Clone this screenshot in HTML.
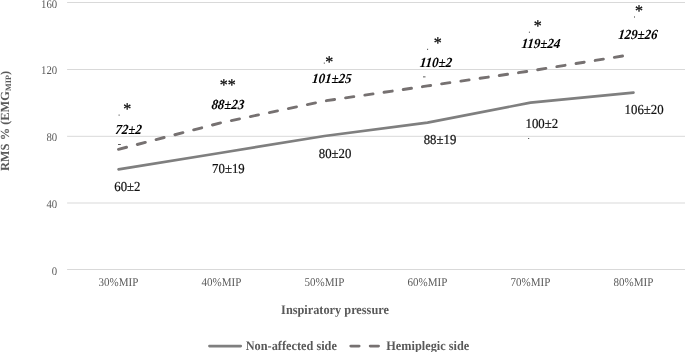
<!DOCTYPE html>
<html><head><meta charset="utf-8">
<style>
html,body{margin:0;padding:0;background:#fff;}
body{width:685px;height:352px;overflow:hidden;position:relative;}
svg{position:absolute;left:0;top:0;display:block;will-change:transform;}
text{font-family:"Liberation Serif",serif;text-rendering:geometricPrecision;}
.ax{font-size:11.1px;fill:#595959;}
.dl{font-size:12.8px;fill:#111;stroke:#111;stroke-width:0.2px;}
.dh{font-size:12.9px;fill:#000;stroke:#000;stroke-width:0.05px;font-weight:bold;font-style:italic;}
.st{font-size:16px;fill:#111;stroke:#111;stroke-width:0.3px;}
.tt{font-size:12.3px;fill:#595959;font-weight:bold;}
</style></head><body>
<svg width="685" height="352" viewBox="0 0 685 352">
<g stroke="#d9d9d9" stroke-width="1" fill="none">
<line x1="67.1" y1="2.5" x2="685" y2="2.5"/>
<line x1="67.1" y1="69.5" x2="685" y2="69.5"/>
<line x1="67.1" y1="136.3" x2="685" y2="136.3"/>
<line x1="67.1" y1="203" x2="685" y2="203"/>
<line x1="67.1" y1="269.5" x2="685" y2="269.5"/>
</g>
<g class="ax" text-anchor="end">
<text transform="translate(57.2,7.65) scale(0.97,1.06)">160</text>
<text transform="translate(57.2,74.4) scale(0.97,1.06)">120</text>
<text transform="translate(57.2,141.15) scale(0.97,1.06)">80</text>
<text transform="translate(57.2,207.55) scale(0.97,1.06)">40</text>
<text transform="translate(57.2,274.65) scale(0.97,1.06)">0</text>
</g><g class="ax" text-anchor="middle">
<text transform="translate(118.5,286.4) scale(0.995,1.07)">30%MIP</text>
<text transform="translate(221.5,286.4) scale(0.995,1.07)">40%MIP</text>
<text transform="translate(324.5,286.4) scale(0.995,1.07)">50%MIP</text>
<text transform="translate(427.5,286.4) scale(0.995,1.07)">60%MIP</text>
<text transform="translate(530.5,286.4) scale(0.995,1.07)">70%MIP</text>
<text transform="translate(633.5,286.4) scale(0.995,1.07)">80%MIP</text>
</g>
<polyline fill="none" stroke="#7f7f7f" stroke-width="2.6" stroke-linejoin="round" stroke-linecap="round" points="118.5,169.38 221.5,152.69 324.5,136.0 427.5,122.65 530.5,102.62 633.5,92.61"/>
<polyline fill="none" stroke="#767171" stroke-width="2.9" stroke-linejoin="round" stroke-linecap="round" stroke-dasharray="8.3,11.115" points="118.5,149.35 221.5,122.65 324.5,100.96 427.5,85.94 530.5,70.92 633.5,54.23"/>
<g class="dl" text-anchor="middle">
<text transform="translate(127.4,190.9) scale(1,1.07)">60±2</text>
<text transform="translate(228.4,173.0) scale(1,1.07)">70±19</text>
<text transform="translate(335.1,157.5) scale(1,1.07)">80±20</text>
<text transform="translate(440,143.8) scale(1,1.07)">88±19</text>
<text transform="translate(541.85,127.8) scale(1,1.07)">100±2</text>
<text transform="translate(644.1,114.35) scale(1,1.07)">106±20</text>
</g><g class="dh" text-anchor="middle">
<text transform="translate(128.2,134.0) scale(1,1.07) skewX(-6)">72±2</text>
<text transform="translate(227.55,109.1) scale(1,1.07) skewX(-6)">88±23</text>
<text transform="translate(331.5,82.9) scale(1,1.07) skewX(-6)">101±25</text>
<text transform="translate(435.6,67.3) scale(1,1.07) skewX(-6)">110±2</text>
<text transform="translate(540.55,48.4) scale(1,1.07) skewX(-6)">119±24</text>
<text transform="translate(637.55,39.1) scale(1,1.07) skewX(-6)">129±26</text>
</g><g class="st" text-anchor="middle">
<text x="127.3" y="114.4">*</text>
<text x="227.8" y="90.1">**</text>
<text x="329.2" y="66.6">*</text>
<text x="437.7" y="48.2">*</text>
<text x="537.7" y="30.8">*</text>
<text x="639" y="16.1">*</text>
</g>
<g fill="#333">
<rect x="118.6" y="114.6" width="1" height="1"/>
<rect x="323.8" y="62.6" width="1" height="1"/>
<rect x="427.1" y="48.8" width="1" height="1"/>
<rect x="528.9" y="31.7" width="1" height="1"/>
<rect x="634.0" y="16.5" width="1" height="1"/>
<rect x="118" y="144.0" width="2.8" height="0.8"/>
<rect x="423" y="76.5" width="2.5" height="0.8"/>
<rect x="528" y="138.0" width="1.2" height="0.8"/>
</g>
<text class="tt" transform="translate(281.1,313.8) scale(1,1.07)">Inspiratory pressure</text>
<text class="tt" text-anchor="middle" style="font-size:12.45px" transform="translate(8.8,121) rotate(-90)">RMS % (EMG<tspan font-size="8.2" dy="2.1">MIP</tspan><tspan dy="-2.1">)</tspan></text>
<line x1="209.4" y1="346.1" x2="240.8" y2="346.1" stroke="#7f7f7f" stroke-width="2.6" stroke-linecap="round"/>
<text class="tt" transform="translate(245.7,349.5) scale(1,1.07)">Non-affected side</text>
<line x1="350.8" y1="346.1" x2="382" y2="346.1" stroke="#767171" stroke-width="2.9" stroke-linecap="round" stroke-dasharray="8.3,11.115"/>
<text class="tt" transform="translate(386.3,349.5) scale(1,1.07)">Hemiplegic side</text>
</svg>
</body></html>
